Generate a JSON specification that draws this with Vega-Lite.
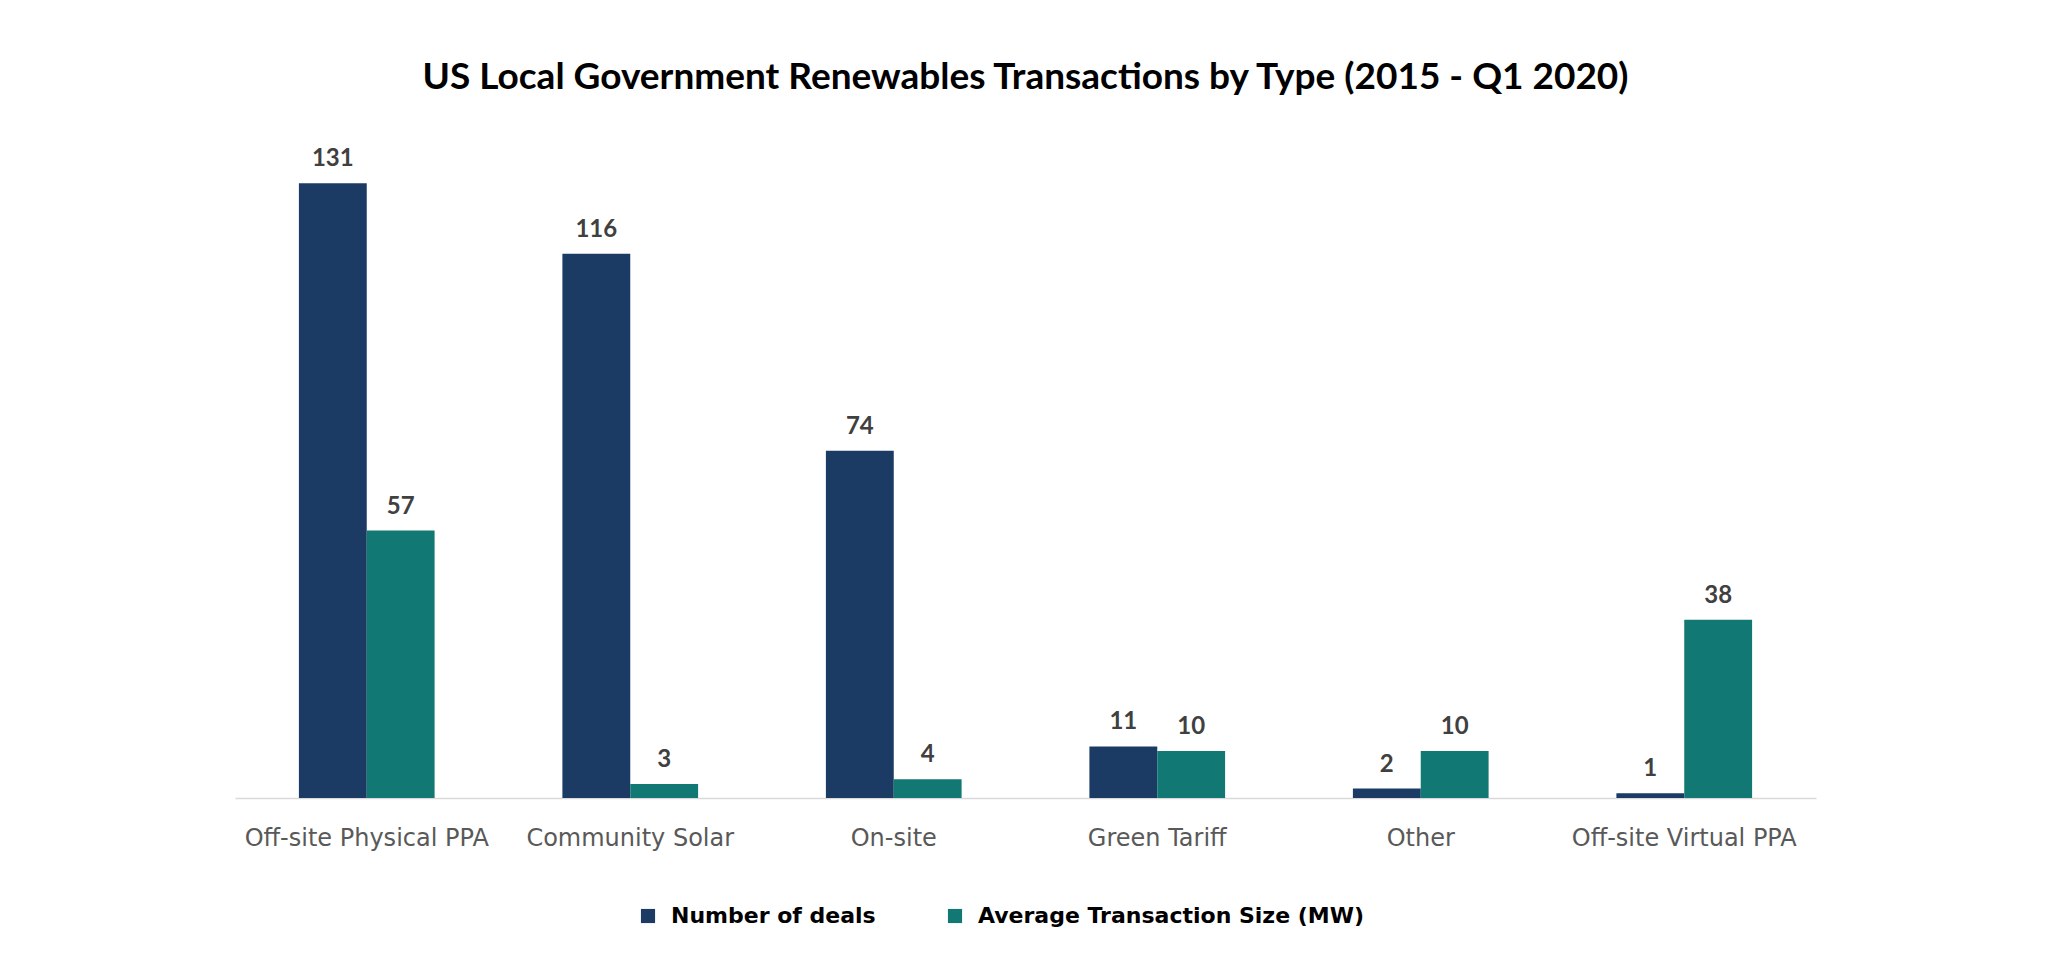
{
  "$schema": "https://vega.github.io/schema/vega-lite/v6.json",
  "autosize": {"type": "none"},
  "padding": {"left": 235, "top": 141, "right": 232, "bottom": 176},
  "width": 1581,
  "height": 657,
  "background": "white",
  "title": {
    "text": "US Local Government Renewables Transactions by Type (2015 - Q1 2020)",
    "font": "Lato",
    "fontSize": 37,
    "fontWeight": "bold",
    "color": "#000000",
    "anchor": "middle",
    "offset": 44
  },
  "data": {
    "values": [
      {"category": "Off-site Physical PPA", "series": "Number of deals", "value": 131},
      {"category": "Off-site Physical PPA", "series": "Average Transaction Size (MW)", "value": 57},
      {"category": "Community Solar", "series": "Number of deals", "value": 116},
      {"category": "Community Solar", "series": "Average Transaction Size (MW)", "value": 3},
      {"category": "On-site", "series": "Number of deals", "value": 74},
      {"category": "On-site", "series": "Average Transaction Size (MW)", "value": 4},
      {"category": "Green Tariff", "series": "Number of deals", "value": 11},
      {"category": "Green Tariff", "series": "Average Transaction Size (MW)", "value": 10},
      {"category": "Other", "series": "Number of deals", "value": 2},
      {"category": "Other", "series": "Average Transaction Size (MW)", "value": 10},
      {"category": "Off-site Virtual PPA", "series": "Number of deals", "value": 1},
      {"category": "Off-site Virtual PPA", "series": "Average Transaction Size (MW)", "value": 38}
    ]
  },
  "encoding": {
    "x": {
      "field": "category",
      "type": "nominal",
      "sort": null,
      "scale": {"paddingInner": 0.485, "paddingOuter": 0.2425},
      "axis": {
        "title": null,
        "labelAngle": 0,
        "labelFont": "DejaVu Sans",
        "labelFontSize": 24,
        "labelColor": "#595959",
        "labelPadding": 28,
        "labelLimit": 500,
        "ticks": false,
        "domainColor": "#d9d9d9",
        "domainWidth": 1.5,
        "grid": false
      }
    },
    "xOffset": {
      "field": "series",
      "type": "nominal",
      "sort": ["Number of deals", "Average Transaction Size (MW)"]
    },
    "y": {
      "field": "value",
      "type": "quantitative",
      "scale": {"domain": [0, 140], "nice": false},
      "axis": null
    }
  },
  "layer": [
    {
      "mark": {"type": "bar"},
      "encoding": {
        "color": {
          "field": "series",
          "type": "nominal",
          "sort": ["Number of deals", "Average Transaction Size (MW)"],
          "scale": {
            "domain": ["Number of deals", "Average Transaction Size (MW)"],
            "range": ["#1b3a64", "#117873"]
          },
          "legend": {
            "title": null,
            "orient": "none",
            "direction": "horizontal",
            "legendX": 402,
            "legendY": 764,
            "symbolType": "square",
            "symbolSize": 200,
            "symbolStrokeWidth": 0,
            "labelFont": "DejaVu Sans",
            "labelFontSize": 22,
            "labelFontWeight": "bold",
            "labelColor": "#000000",
            "labelOffset": 12,
            "columnPadding": 68,
            "labelLimit": 600
          }
        }
      }
    },
    {
      "mark": {
        "type": "text",
        "baseline": "bottom",
        "dy": -12,
        "font": "Lato",
        "fontSize": 24,
        "fontWeight": "bold",
        "color": "#404040"
      },
      "encoding": {
        "text": {"field": "value", "type": "quantitative"}
      }
    }
  ],
  "config": {
    "view": {"stroke": null}
  }
}
